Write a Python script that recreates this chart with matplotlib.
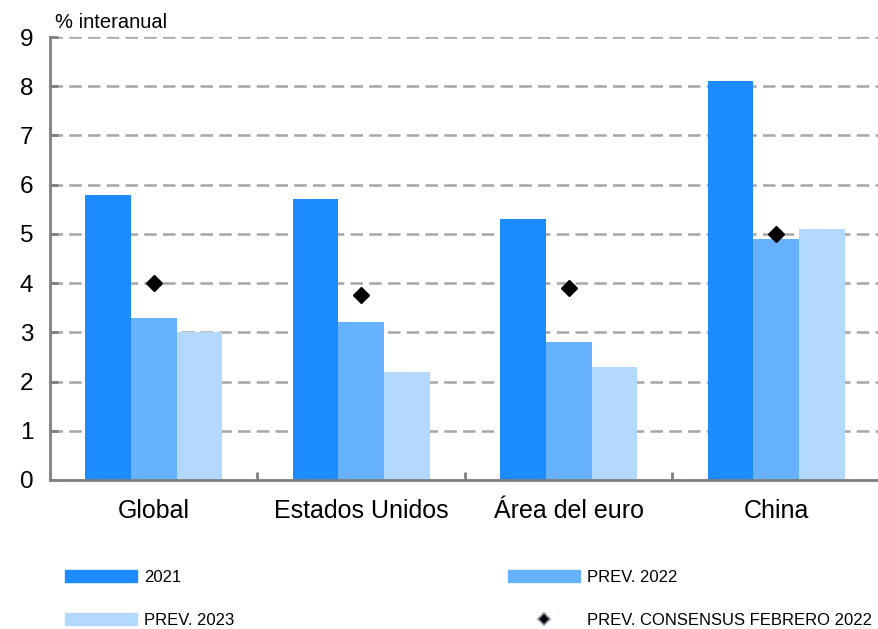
import matplotlib.pyplot as plt
import numpy as np
from matplotlib.patches import Patch
from matplotlib.lines import Line2D

# Datos (% interanual)
categorias = ['Global', 'Estados Unidos', 'Área del euro', 'China']
pib_2021 = [5.8, 5.7, 5.3, 8.1]
prev_2022 = [3.3, 3.2, 2.8, 4.9]
prev_2023 = [3.0, 2.2, 2.3, 5.1]
consenso_feb22 = [4.0, 3.75, 3.9, 5.0]
yticks = [0, 1, 2, 3, 4, 5, 6, 7, 8, 9]

c2021 = '#1b8bff'
c2022 = '#66b2ff'
c2023 = '#b4d9ff'
gris = '#808080'

plt.rcParams['font.family'] = ['Liberation Sans', 'DejaVu Sans']

fig = plt.figure(figsize=(8.79, 6.29), dpi=100)
ax = fig.add_axes([50 / 879, 1 - 480 / 629, 830 / 879, 443 / 629])

x = np.arange(len(categorias))
w = 0.22
ax.bar(x - w, pib_2021, w, color=c2021, zorder=2)
ax.bar(x, prev_2022, w, color=c2022, zorder=2)
ax.bar(x + w, prev_2023, w, color=c2023, zorder=2)
ax.plot(x, consenso_feb22, linestyle='none', marker='D', markersize=8.5,
        color='black', zorder=3)

ax.set_xlim(-0.5, 3.5)
ax.set_ylim(0, 9)
ax.set_yticks(yticks)
ax.set_xticks(x)
ax.set_xticklabels(categorias)
ax.set_xticks([0.5, 1.5, 2.5], minor=True)

ax.yaxis.grid(True, color='#a6a6a6', linestyle=(0, (5, 2.5)), linewidth=1.8, zorder=0)
ax.set_axisbelow(True)

for s in ['top', 'right']:
    ax.spines[s].set_visible(False)
for s in ['left', 'bottom']:
    ax.spines[s].set_color(gris)
    ax.spines[s].set_linewidth(2)

ax.tick_params(axis='y', direction='in', length=6, width=2, color=gris,
               labelsize=17.5, pad=12)
ax.tick_params(axis='x', which='major', length=0, labelsize=18, pad=14)
ax.tick_params(axis='x', which='minor', direction='in', length=6, width=2, color=gris)

fig.text(55 / 879, 1 - 22 / 629, '% interanual', fontsize=14.5, ha='left', va='center')

# Leyenda: dos columnas colocadas por separado
prop_ley = {'size': 12}
opts = dict(loc='center left', frameon=False, prop=prop_ley, borderpad=0,
            borderaxespad=0, handlelength=4.3, handleheight=0.75,
            handletextpad=0.45, labelspacing=1.7)

h1 = [Patch(color=c2021), Patch(color=c2023)]
ley1 = fig.legend(h1, ['2021', 'PREV. 2023'],
                  bbox_to_anchor=(65 / 879, 1 - 599 / 629), **opts)

h2 = [Patch(color=c2022),
      Line2D([], [], linestyle='none', marker='D', markersize=6,
             markerfacecolor='black', markeredgecolor='#8a8fa8', markeredgewidth=1.2)]
ley2 = fig.legend(h2, ['PREV. 2022', 'PREV. CONSENSUS FEBRERO 2022'],
                  bbox_to_anchor=(508 / 879, 1 - 599 / 629), **opts)

fig.savefig('out.png', dpi=100)
